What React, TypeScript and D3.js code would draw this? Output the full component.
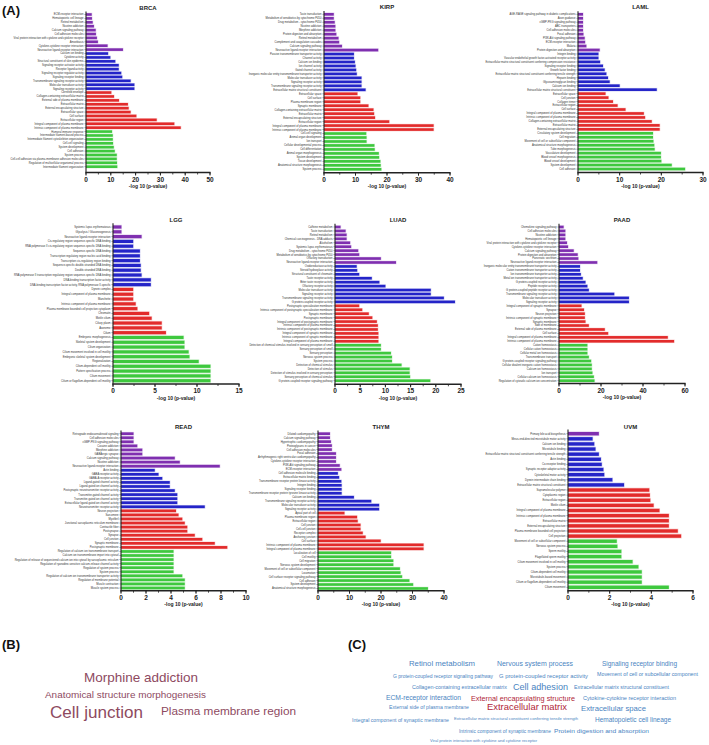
import React from "react";
import * as d3 from "d3";

// bar colours: KEGG, GO MF, GO CC, GO BP
const COLORS = ["#7f2fb0", "#2424c8", "#e22b2b", "#3ec83e"];
const FONT = "'Liberation Sans', Arial, sans-serif";

// ---------- BRCA ----------
const brcaTerms = [
  "ECM-receptor interaction", "Hematopoietic cell lineage", "Retinol metabolism", "Nicotine addiction",
  "Calcium signaling pathway", "Cell adhesion molecules", "Viral protein interaction with cytokine and cytokine receptor",
  "Amoebiasis", "Cytokine-cytokine receptor interaction", "Neuroactive ligand-receptor interaction",
  "Calcium ion binding", "Cytokine activity", "Structural constituent of skin epidermis", "Signaling receptor activator activity",
  "Receptor ligand activity", "Signaling receptor regulator activity", "Signaling receptor binding",
  "Transmembrane signaling receptor activity", "Molecular transducer activity", "Signaling receptor activity",
  "Cornified envelope", "Collagen-containing extracellular matrix", "External side of plasma membrane", "Extracellular matrix",
  "External encapsulating structure", "Extracellular space", "Cell surface", "Extracellular region",
  "Integral component of plasma membrane", "Intrinsic component of plasma membrane",
  "Humoral immune response", "Intermediate filament-based process", "Intermediate filament cytoskeleton organization",
  "Cell-cell signaling", "System development", "Cell adhesion", "System process",
  "Cell-cell adhesion via plasma-membrane adhesion molecules", "Regulation of multicellular organismal process",
  "Intermediate filament organization",
];
const brcaScores = [
  2.3, 2.4, 2.7, 3.2, 3.9, 4.0, 4.4, 4.8, 8.7, 14.9,
  8.9, 9.8, 11.8, 13.2, 13.2, 14.2, 14.6, 18.0, 19.5, 19.5,
  10.2, 11.3, 13.3, 16.9, 17.2, 18.0, 20.3, 28.5, 35.6, 38.2,
  10.5, 10.8, 10.8, 10.9, 11.2, 11.6, 12.4, 12.4, 12.5, 12.6,
];
const brcaGroups = [10, 10, 10, 10];
const brcaTicks = [0, 10, 20, 30, 40, 50];

// ---------- KIRP ----------
const kirpTerms = [
  "Taste transduction", "Metabolism of xenobiotics by cytochrome P450", "Drug metabolism - cytochrome P450",
  "Nicotine addiction", "Morphine addiction", "Protein digestion and absorption", "Retinol metabolism",
  "Complement and coagulation cascades", "Calcium signaling pathway", "Neuroactive ligand-receptor interaction",
  "Passive transmembrane transporter activity", "Channel activity", "Calcium ion binding", "Ion channel activity",
  "Gated channel activity", "Inorganic molecular entity transmembrane transporter activity", "Molecular transducer activity",
  "Signaling receptor activity", "Transmembrane signaling receptor activity", "Extracellular matrix structural constituent",
  "Extracellular space", "Cell surface", "Plasma membrane region", "Synaptic membrane",
  "Collagen-containing extracellular matrix", "Extracellular matrix", "External encapsulating structure",
  "Extracellular region", "Integral component of plasma membrane", "Intrinsic component of plasma membrane",
  "Cell-cell signaling", "Animal organ development", "Ion transport", "Cellular developmental process",
  "Cell differentiation", "Animal organ morphogenesis", "System development", "Tissue development",
  "Anatomical structure morphogenesis", "System process",
];
const kirpScores = [
  3.1, 3.1, 3.4, 3.6, 3.6, 3.9, 4.6, 4.8, 5.7, 17.2,
  9.5, 9.5, 9.8, 10.0, 10.2, 10.4, 11.9, 11.9, 11.9, 13.2,
  10.6, 11.5, 11.5, 14.1, 15.7, 15.9, 16.2, 20.7, 34.8, 34.8,
  13.4, 13.5, 13.5, 16.0, 16.1, 17.4, 17.5, 17.9, 18.0, 18.2,
];
const kirpGroups = [10, 10, 10, 10];
const kirpTicks = [0, 10, 20, 30, 40];

// ---------- LAML ----------
const lamlTerms = [
  "AGE-RAGE signaling pathway in diabetic complications", "Axon guidance", "cGMP-PKG signaling pathway",
  "ABC transporters", "Cell adhesion molecules", "Focal adhesion", "PI3K-Akt signaling pathway",
  "ECM-receptor interaction", "Malaria", "Protein digestion and absorption",
  "Integrin binding", "Vascular endothelial growth factor-activated receptor activity",
  "Extracellular matrix structural constituent conferring compression resistance", "Signaling receptor binding",
  "Growth factor binding", "Extracellular matrix structural constituent conferring tensile strength", "Heparin binding",
  "Glycosaminoglycan binding", "Calcium ion binding", "Extracellular matrix structural constituent",
  "Extracellular space", "Cell junction", "Collagen trimer", "Extracellular region", "Cell surface",
  "Integral component of plasma membrane", "Intrinsic component of plasma membrane",
  "Collagen-containing extracellular matrix", "Extracellular matrix", "External encapsulating structure",
  "Circulatory system development", "Cell migration", "Movement of cell or subcellular component",
  "Anatomical structure morphogenesis", "Tube morphogenesis", "Vasculature development", "Blood vessel morphogenesis",
  "Blood vessel development", "System development", "Cell adhesion",
];
const lamlScores = [
  1.2, 1.2, 1.2, 1.2, 1.2, 1.3, 1.6, 1.7, 2.0, 5.2,
  4.9, 4.9, 5.3, 6.0, 6.4, 6.8, 7.2, 7.6, 10.0, 18.9,
  6.6, 7.3, 8.4, 9.5, 11.4, 15.8, 16.1, 17.7, 19.6, 19.6,
  18.0, 18.0, 18.1, 18.3, 18.4, 19.9, 19.9, 20.0, 22.5, 25.7,
];
const lamlGroups = [10, 10, 10, 10];
const lamlTicks = [0, 10, 20, 30];

// ---------- LGG ----------
const lggTerms = [
  "Systemic lupus erythematosus", "Glycolysis / Gluconeogenesis", "Neuroactive ligand-receptor interaction",
  "Cis-regulatory region sequence-specific DNA binding",
  "RNA polymerase II cis-regulatory region sequence-specific DNA binding", "Sequence-specific DNA binding",
  "Transcription regulatory region nucleic acid binding", "Transcription cis-regulatory region binding",
  "Sequence-specific double-stranded DNA binding", "Double-stranded DNA binding",
  "RNA polymerase II transcription regulatory region sequence-specific DNA binding",
  "DNA-binding transcription factor activity", "DNA-binding transcription factor activity, RNA polymerase II-specific",
  "Dynein complex", "Integral component of plasma membrane", "Manchette", "Intrinsic component of plasma membrane",
  "Plasma membrane bounded cell projection cytoplasm", "Chromatin", "Motile cilium", "Ciliary plasm", "Axoneme", "Cilium",
  "Embryonic morphogenesis", "Skeletal system development", "Cilium organization",
  "Cilium movement involved in cell motility", "Embryonic skeletal system development", "Regionalization",
  "Cilium-dependent cell motility", "Pattern specification process", "Cilium movement",
  "Cilium or flagellum-dependent cell motility",
];
const lggScores = [
  1.0, 1.0, 3.4,
  2.4, 2.4, 3.2, 3.2, 3.2, 3.3, 3.3, 3.4, 4.5, 4.5,
  2.4, 2.4, 2.4, 2.7, 2.9, 4.3, 4.6, 5.8, 5.8, 6.3,
  8.4, 8.5, 8.5, 9.0, 9.1, 10.2, 11.6, 11.6, 11.6, 11.6,
];
const lggGroups = [3, 10, 10, 10];
const lggTicks = [0, 5, 10, 15];

// ---------- LUAD ----------
const luadTerms = [
  "Caffeine metabolism", "Taste transduction", "Retinol metabolism", "Chemical carcinogenesis - DNA adducts",
  "Alcoholism", "Systemic lupus erythematosus", "Drug metabolism - cytochrome P450",
  "Metabolism of xenobiotics by cytochrome P450", "Olfactory transduction", "Neuroactive ligand-receptor interaction",
  "Oxidoreductase activity", "Steroid hydroxylase activity", "Structural constituent of chromatin",
  "Taste receptor activity", "Bitter taste receptor activity", "Olfactory receptor activity",
  "Molecular transducer activity", "Signaling receptor activity", "Transmembrane signaling receptor activity",
  "G protein-coupled receptor activity",
  "Postsynaptic specialization membrane", "Intrinsic component of postsynaptic specialization membrane",
  "Synaptic membrane", "Postsynaptic membrane", "Integral component of postsynaptic membrane",
  "Intrinsic component of plasma membrane", "Intrinsic component of postsynaptic membrane",
  "Integral component of synaptic membrane", "Intrinsic component of synaptic membrane",
  "Integral component of plasma membrane",
  "Detection of chemical stimulus involved in sensory perception of smell", "Sensory perception of smell",
  "Sensory perception", "Nervous system process", "System process", "Detection of chemical stimulus",
  "Detection of stimulus", "Detection of stimulus involved in sensory perception",
  "Sensory perception of chemical stimulus", "G protein-coupled receptor signaling pathway",
];
const luadScores = [
  1.1, 2.1, 2.3, 2.3, 3.0, 3.2, 4.6, 4.8, 9.1, 12.1,
  4.3, 4.4, 4.8, 7.3, 8.8, 10.0, 19.0, 19.0, 21.6, 23.8,
  4.8, 5.4, 6.7, 7.4, 8.3, 8.5, 8.5, 8.6, 8.6, 8.6,
  9.1, 9.1, 11.1, 11.3, 11.3, 13.2, 14.8, 14.8, 14.9, 18.9,
];
const luadGroups = [10, 10, 10, 10];
const luadTicks = [0, 5, 10, 15, 20, 25];

// ---------- PAAD ----------
const paadTerms = [
  "Chemokine signaling pathway", "Cell adhesion molecules", "Nicotine addiction", "Hematopoietic cell lineage",
  "Viral protein interaction with cytokine and cytokine receptor", "Cytokine-cytokine receptor interaction",
  "Calcium signaling pathway", "Protein digestion and absorption", "Pancreatic secretion",
  "Neuroactive ligand-receptor interaction",
  "Inorganic molecular entity transmembrane transporter activity", "Cation transmembrane transporter activity",
  "Ion transmembrane transporter activity", "Metal ion transmembrane transporter activity",
  "G protein-coupled receptor activity", "Peptide receptor activity", "G protein-coupled peptide receptor activity",
  "Transmembrane signaling receptor activity", "Molecular transducer activity", "Signaling receptor activity",
  "Integral component of synaptic membrane", "Synapse", "Neuron projection", "Intrinsic component of synaptic membrane",
  "Synaptic membrane", "Side of membrane", "External side of plasma membrane", "Cell surface",
  "Integral component of plasma membrane", "Intrinsic component of plasma membrane",
  "Cation homeostasis", "Cellular cation homeostasis", "Cellular metal ion homeostasis", "Transmembrane transport",
  "G protein-coupled receptor signaling pathway", "Cellular divalent inorganic cation homeostasis",
  "Calcium ion homeostasis", "Ion transport", "Cellular calcium ion homeostasis",
  "Regulation of cytosolic calcium ion concentration",
];
const paadScores = [
  2.2, 3.0, 3.0, 3.0, 3.8, 4.3, 7.0, 8.9, 9.2, 18.2,
  10.0, 10.0, 10.4, 11.3, 12.6, 13.5, 14.2, 26.3, 33.3, 33.3,
  10.7, 11.9, 12.3, 12.3, 12.6, 14.2, 21.8, 23.4, 51.8, 54.8,
  13.5, 13.5, 13.5, 14.2, 15.3, 15.6, 15.6, 15.9, 16.6, 16.9,
];
const paadGroups = [10, 10, 10, 10];
const paadTicks = [0, 20, 40, 60];

// ---------- READ ----------
const readTerms = [
  "Retrograde endocannabinoid signaling", "Cell adhesion molecules", "cGMP-PKG signaling pathway", "Cocaine addiction",
  "Morphine addiction", "GABAergic synapse", "Calcium signaling pathway", "Nicotine addiction",
  "Neuroactive ligand-receptor interaction",
  "Actin binding", "GABA receptor activity", "GABA-A receptor activity", "Ligand-gated channel activity",
  "Ligand-gated ion channel activity", "Postsynaptic neurotransmitter receptor activity",
  "Transmitter-gated channel activity", "Transmitter-gated ion channel activity",
  "Extracellular ligand-gated ion channel activity", "Neurotransmitter receptor activity",
  "Neuron projection", "Sarcomere", "Myofibril", "Junctional sarcoplasmic reticulum membrane", "Contractile fiber",
  "Postsynapse", "Synapse", "Cell junction", "Synaptic membrane", "Postsynaptic membrane",
  "Regulation of calcium ion transmembrane transport", "Calcium ion transmembrane import into cytosol",
  "Regulation of release of sequestered calcium ion into cytosol by sarcoplasmic reticulum",
  "Regulation of ryanodine-sensitive calcium-release channel activity", "Regulation of system process",
  "System process", "Regulation of calcium ion transmembrane transporter activity",
  "Regulation of membrane potential", "Muscle contraction", "Muscle system process",
];
const readScores = [
  1.0, 1.0, 1.0, 1.3, 1.7, 1.7, 4.3, 4.7, 7.9,
  2.7, 3.0, 3.3, 3.9, 3.9, 4.3, 4.5, 4.5, 4.5, 6.7,
  4.4, 4.6, 4.9, 5.1, 5.3, 5.3, 5.9, 6.5, 7.5, 8.5,
  4.2, 4.2, 4.2, 4.2, 4.2, 4.2, 4.9, 5.1, 5.1, 5.1,
];
const readGroups = [9, 10, 10, 10];
const readTicks = [0, 2, 4, 6, 8, 10];

// ---------- THYM ----------
const thymTerms = [
  "Dilated cardiomyopathy", "Calcium signaling pathway", "Hypertrophic cardiomyopathy", "Proteoglycans in cancer",
  "Cell adhesion molecules", "Focal adhesion", "Arrhythmogenic right ventricular cardiomyopathy",
  "Cytokine-cytokine receptor interaction", "PI3K-Akt signaling pathway", "ECM-receptor interaction",
  "Cell adhesion molecule binding", "Extracellular matrix binding", "Transmembrane receptor protein kinase activity",
  "Integrin binding", "Signaling receptor binding", "Transmembrane receptor protein tyrosine kinase activity",
  "Calcium ion binding", "Transmembrane signaling receptor activity", "Molecular transducer activity",
  "Signaling receptor activity",
  "Apical part of cell", "Plasma membrane region", "Extracellular region", "Cell junction", "Cell-cell junction",
  "Receptor complex", "Anchoring junction", "Cell surface", "Intrinsic component of plasma membrane",
  "Integral component of plasma membrane",
  "Localization of cell", "Cell motility", "Cell migration", "Nervous system development",
  "Movement of cell or subcellular component", "Locomotion", "Cell surface receptor signaling pathway",
  "Cell adhesion", "System development", "Anatomical structure morphogenesis",
];
const thymScores = [
  3.8, 3.8, 4.1, 4.4, 4.4, 5.7, 5.7, 5.7, 6.9, 7.4,
  6.3, 6.7, 7.4, 7.5, 7.5, 7.5, 11.4, 16.9, 19.4, 19.4,
  8.4, 12.4, 12.6, 13.5, 13.5, 14.2, 15.1, 19.9, 33.5, 33.5,
  23.2, 23.2, 23.9, 23.9, 26.0, 26.2, 26.7, 29.0, 30.2, 34.9,
];
const thymGroups = [10, 10, 10, 10];
const thymTicks = [0, 10, 20, 30, 40];

// ---------- UVM ----------
const uvmTerms = [
  "Primary bile acid biosynthesis",
  "Minus-end-directed microtubule motor activity", "Calcium ion binding", "Microtubule binding",
  "Extracellular matrix structural constituent conferring tensile strength", "Actin binding", "Co-receptor binding",
  "Synaptic receptor adaptor activity", "Cytoskeletal motor activity", "Dynein intermediate chain binding",
  "Extracellular matrix structural constituent",
  "Supramolecular polymer", "Cytoplasmic region", "Extracellular region", "Motile cilium",
  "Integral component of plasma membrane", "Intrinsic component of plasma membrane", "Extracellular matrix",
  "External encapsulating structure", "Plasma membrane bounded cell projection", "Cell projection",
  "Movement of cell or subcellular component", "Nervous system process", "Sperm motility",
  "Flagellated sperm motility", "Cilium movement involved in cell motility", "System process",
  "Cilium-dependent cell motility", "Microtubule-based movement", "Cilium or flagellum-dependent cell motility",
  "Cilium movement",
];
const uvmScores = [
  1.48,
  1.18, 1.26, 1.32, 1.48, 1.58, 1.62, 1.7, 1.74, 2.13, 2.69,
  3.9, 3.93, 3.95, 4.11, 4.39, 4.84, 4.84, 4.84, 5.27, 5.43,
  2.34, 2.37, 2.56, 2.56, 3.1, 3.38, 3.54, 3.54, 3.54, 4.84,
];
const uvmGroups = [1, 10, 10, 10];
const uvmTicks = [0, 2, 4, 6];

// ---------- word clouds ----------
const sharedTerms = [
  "Morphine addiction", "Anatomical structure morphogenesis", "Cell junction", "Plasma membrane region",
];
const commonTerms = [
  "Retinol metabolism", "Nervous system process", "Signaling receptor binding",
  "G protein-coupled receptor signaling pathway", "G protein-coupled receptor activity",
  "Movement of cell or subcellular component", "Collagen-containing extracellular matrix", "Cell adhesion",
  "Extracellular matrix structural constituent", "ECM-receptor interaction", "External encapsulating structure",
  "Cytokine-cytokine receptor interaction", "External side of plasma membrane", "Extracellular matrix",
  "Extracellular space", "Integral component of synaptic membrane",
  "Extracellular matrix structural constituent conferring tensile strength", "Hematopoietic cell lineage",
  "Intrinsic component of synaptic membrane", "Protein digestion and absorption",
  "Viral protein interaction with cytokine and cytokine receptor",
];
const commonHighlighted = ["External encapsulating structure", "Extracellular matrix"];

// layout of the clouds: [x, y centre, width, font size]
const sharedLayout: [number, number, number, number][] = [
  [84, 677, 114, 13.5], [45, 695, 161, 9.9], [50, 712, 93, 17], [161, 711, 135, 11.8],
];
const commonLayout: [number, number, number, number][] = [
  [409, 663, 66, 7.8], [497, 664, 76, 7], [602, 664, 75, 6.6],
  [393, 676, 100, 4.6], [499, 676, 89, 5.8], [597, 674, 101, 5.2],
  [412, 687, 95, 5.2], [513, 687, 55, 9.1], [574, 687, 95, 4.9],
  [386, 698, 75, 6.8], [471, 698, 104, 7.3], [583, 698, 93, 5.3],
  [389, 707.5, 80, 5.3], [487, 707, 80, 9.2], [581, 708, 65, 7.7],
  [352, 720, 97, 4.9], [454, 719, 124, 3.6], [595, 720, 76, 6.8],
  [459, 731, 92, 4.6], [554, 731, 95, 6.2],
  [430, 741, 107, 3.6],
];

type Box = { x0: number; x1: number; top: number; bottom: number; axisY: number };

function GoPanel(props: {
  title: string;
  terms: string[];
  scores: number[];
  groups: number[];
  ticks: number[];
  box: Box;
}) {
  const { title, terms, scores, groups, ticks, box } = props;
  const max = ticks[ticks.length - 1];
  const x = d3.scaleLinear().domain([0, max]).range([box.x0, box.x1]);
  const y = d3.scalePoint<number>().domain(d3.range(terms.length)).range([box.top, box.bottom]);
  const step = y.step();
  const barH = step * 0.66;
  const ends = Array.from(d3.cumsum(groups));
  const colorOf = (i: number) => COLORS[d3.bisectRight(ends, i)];
  const half = (ticks[1] - ticks[0]) / 2;
  const minor = d3.range(0, max + 0.001, half);

  return (
    <g fontFamily={FONT}>
      <text x={(box.x0 + box.x1) / 2} y={box.top - 5} textAnchor="middle" fontSize={6} fontWeight="bold" fill="#222">
        {title}
      </text>
      {terms.map((t, i) => {
        const cy = y(i)!;
        const c = colorOf(i);
        return (
          <g key={i}>
            <rect x={box.x0} y={cy - step / 2 + 0.2} width={x(scores[i]) - box.x0 + 0.6} height={step - 0.4}
              fill={c} opacity={0.22} />
            <rect x={box.x0} y={cy - barH / 2} width={x(scores[i]) - box.x0} height={barH} fill={c} />
            <line x1={box.x0 - 1.6} x2={box.x0} y1={cy} y2={cy} stroke="#333" strokeWidth={0.4} />
            <text x={box.x0 - 2.4} y={cy} dy="0.35em" textAnchor="end" fontSize={2.7} fill="#333">
              {t}
            </text>
          </g>
        );
      })}
      <line x1={box.x0} x2={box.x0} y1={box.top - step * 0.8} y2={box.axisY} stroke="#222" strokeWidth={1.1} />
      <line x1={box.x0 - 0.6} x2={box.x1 + 0.6} y1={box.axisY} y2={box.axisY} stroke="#222" strokeWidth={1.6} />
      {minor.map((v) => (
        <line key={"m" + v} x1={x(v)} x2={x(v)} y1={box.axisY} y2={box.axisY + 2} stroke="#222" strokeWidth={0.8} />
      ))}
      {ticks.map((v) => (
        <g key={v}>
          <line x1={x(v)} x2={x(v)} y1={box.axisY} y2={box.axisY + 3} stroke="#222" strokeWidth={1} />
          <text x={x(v)} y={box.axisY + 9} textAnchor="middle" fontSize={6.5} fontWeight="bold" fill="#222">
            {v}
          </text>
        </g>
      ))}
      <text x={(box.x0 + box.x1) / 2} y={box.axisY + 15.5} textAnchor="middle" fontSize={5} fontWeight="bold" fill="#222">
        -log 10 (p-value)
      </text>
    </g>
  );
}

const panels = [
  { title: "BRCA", terms: brcaTerms, scores: brcaScores, groups: brcaGroups, ticks: brcaTicks,
    box: { x0: 86, x1: 210, top: 14.5, bottom: 166.7, axisY: 172.5 } },
  { title: "KIRP", terms: kirpTerms, scores: kirpScores, groups: kirpGroups, ticks: kirpTicks,
    box: { x0: 324, x1: 450, top: 14.3, bottom: 169.3, axisY: 172.7 } },
  { title: "LAML", terms: lamlTerms, scores: lamlScores, groups: lamlGroups, ticks: lamlTicks,
    box: { x0: 578, x1: 703, top: 14.3, bottom: 169, axisY: 172.5 } },
  { title: "LGG", terms: lggTerms, scores: lggScores, groups: lggGroups, ticks: lggTicks,
    box: { x0: 113, x1: 239, top: 227, bottom: 380.7, axisY: 384 } },
  { title: "LUAD", terms: luadTerms, scores: luadScores, groups: luadGroups, ticks: luadTicks,
    box: { x0: 335, x1: 461, top: 227, bottom: 380.7, axisY: 384.3 } },
  { title: "PAAD", terms: paadTerms, scores: paadScores, groups: paadGroups, ticks: paadTicks,
    box: { x0: 559, x1: 685, top: 227, bottom: 380.7, axisY: 383.5 } },
  { title: "READ", terms: readTerms, scores: readScores, groups: readGroups, ticks: readTicks,
    box: { x0: 121, x1: 246, top: 433.7, bottom: 588, axisY: 590.7 } },
  { title: "THYM", terms: thymTerms, scores: thymScores, groups: thymGroups, ticks: thymTicks,
    box: { x0: 318, x1: 444, top: 433.7, bottom: 588.5, axisY: 590.7 } },
  { title: "UVM", terms: uvmTerms, scores: uvmScores, groups: uvmGroups, ticks: uvmTicks,
    box: { x0: 568, x1: 693, top: 433.7, bottom: 587.3, axisY: 590.7 } },
];

export default function App() {
  return (
    <div style={{ position: "absolute", left: 0, top: 0 }}>
      <svg width={709} height={745} viewBox="0 0 709 745" style={{ display: "block", background: "#fff" }}>
        <rect width={709} height={745} fill="#fff" />
        <g fontFamily={FONT} fontWeight="bold" fontSize={13} fill="#111">
          <text x={2} y={15}>(A)</text>
          <text x={2} y={649}>(B)</text>
          <text x={348} y={649}>(C)</text>
        </g>
        {panels.map((p) => (
          <GoPanel key={p.title} {...p} />
        ))}
        <g fontFamily={FONT}>
          {sharedTerms.map((t, i) => {
            const [lx, ly, w, fs] = sharedLayout[i];
            return (
              <text key={t} x={lx} y={ly} dy="0.35em" fontSize={fs} fill="#8e4a5f"
                textLength={w} lengthAdjust="spacingAndGlyphs">
                {t}
              </text>
            );
          })}
          {commonTerms.map((t, i) => {
            const [lx, ly, w, fs] = commonLayout[i];
            const red = commonHighlighted.includes(t);
            return (
              <text key={t} x={lx} y={ly} dy="0.35em" fontSize={fs} fill={red ? "#b02638" : "#4a84bf"}
                textLength={w} lengthAdjust="spacingAndGlyphs">
                {t}
              </text>
            );
          })}
        </g>
      </svg>
    </div>
  );
}
